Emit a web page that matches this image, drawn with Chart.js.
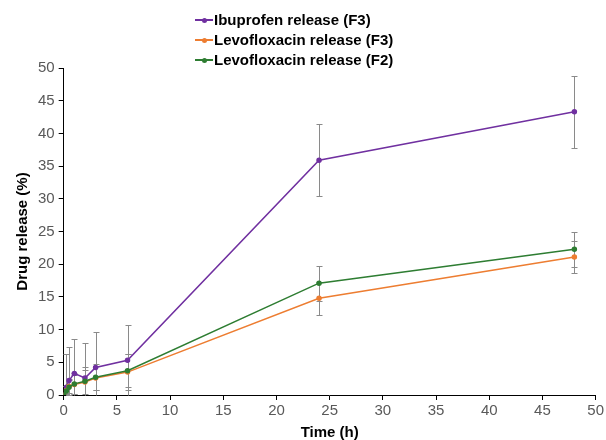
<!DOCTYPE html>
<html>
<head>
<meta charset="utf-8">
<script src="https://cdn.jsdelivr.net/npm/chart.js@4.4.1/dist/chart.umd.min.js"></script>
<style>
  body { margin: 0; background: #fff; }
  #wrap { position: relative; width: 606px; height: 440px; }
  #legend { position: absolute; left: 195px; top: 10px; font: bold 15px "Liberation Sans", Arial, sans-serif; color: #000; }
  #legend .row { height: 20px; line-height: 20px; display: flex; align-items: center; white-space: nowrap; }
  #legend .mark { position: relative; width: 18px; height: 2px; margin-right: 1px; }
  #legend .mark span { position: absolute; left: 7px; top: -1.5px; width: 5px; height: 5px; border-radius: 50%; }
</style>
</head>
<body>
<div id="wrap">
  <canvas id="chart" width="606" height="440"></canvas>
  <div id="legend"></div>
</div>
<script>
// ========================== Data ==========================
const times = [0, 0.25, 0.5, 1, 2, 3, 6, 24, 48];
const seriesNames = ['Ibuprofen release (F3)', 'Levofloxacin release (F3)', 'Levofloxacin release (F2)'];
const seriesColors = ['#7030A0', '#ED7D31', '#2E7D32'];

const ibuF3 = [0, 1.2, 2.2, 3.3, 2.6, 4.2, 5.3, 35.9, 43.3];
const levoF3 = [0, 0.7, 1.3, 1.6, 2.0, 2.6, 3.5, 14.8, 21.1];
const levoF2 = [0, 0.6, 1.2, 1.7, 2.1, 2.7, 3.7, 17.1, 22.3];

const ibuF3Err = [0, 5.1, 5.2, 5.3, 5.3, 5.5, 5.4, 5.5, 5.5];
const levoF3Err = [0, 0.6, 1.0, 1.4, 1.8, 1.8, 2.7, 2.5, 2.5];
const levoF2Err = [0, 0.8, 1.2, 1.6, 2.2, 2.0, 2.5, 2.7, 2.7];

const xTicks = [0, 5, 10, 15, 20, 25, 30, 35, 40, 45, 50];
const yTicks = [0, 5, 10, 15, 20, 25, 30, 35, 40, 45, 50];

const values = [ibuF3, levoF3, levoF2];
const errors = [ibuF3Err, levoF3Err, levoF2Err];

// draw order: green, orange, purple on top
const order = [2, 1, 0];

// ========================== Error bars ==========================
const errorBars = {
  id: 'errorBars',
  beforeDatasetsDraw(chart) {
    const ctx = chart.ctx;
    const xs = chart.scales.x, ys = chart.scales.y;
    ctx.save();
    ctx.strokeStyle = '#8a8a8a';
    ctx.lineWidth = 1;
    chart.data.datasets.forEach((ds, k) => {
      const i = order[k];
      ds.data.forEach((p, j) => {
        const e = errors[i][j];
        if (!e) return;
        const px = Math.round(xs.getPixelForValue(p.x)) + 0.5;
        const top = Math.round(ys.getPixelForValue(p.y + e)) + 0.5;
        const bot = Math.round(ys.getPixelForValue(Math.max(0, p.y - e))) + 0.5;
        ctx.beginPath();
        ctx.moveTo(px, top); ctx.lineTo(px, bot);
        ctx.moveTo(px - 3, top); ctx.lineTo(px + 3, top);
        if (p.y - e >= 0) { ctx.moveTo(px - 3, bot); ctx.lineTo(px + 3, bot); }
        ctx.stroke();
      });
    });
    ctx.restore();
  }
};

// ========================== Chart ==========================
const datasets = order.map(i => ({
  label: seriesNames[i],
  data: times.map((t, j) => ({ x: t, y: values[i][j] })),
  borderColor: seriesColors[i],
  backgroundColor: seriesColors[i],
  borderWidth: 1.5,
  pointRadius: 2,
  pointHoverRadius: 2,
  tension: 0
}));

const tickFont = { family: '"Liberation Sans", Arial, sans-serif', size: 15 };
const titleFont = { family: '"Liberation Sans", Arial, sans-serif', size: 15, weight: 'bold' };

new Chart(document.getElementById('chart'), {
  type: 'line',
  data: { datasets },
  plugins: [errorBars],
  options: {
    responsive: false,
    animation: false,
    layout: { padding: { top: 68, right: 3, left: 14, bottom: 0 } },
    plugins: { legend: { display: false }, tooltip: { enabled: false } },
    scales: {
      x: {
        type: 'linear', min: 0, max: 50,
        afterBuildTicks: s => { s.ticks = xTicks.map(v => ({ value: v })); },
        ticks: { color: '#595959', font: tickFont, padding: 2, maxRotation: 0 },
        grid: { drawOnChartArea: false, drawTicks: true, tickLength: 5, color: '#000' },
        border: { color: '#000', width: 1 },
        title: { display: true, text: 'Time (h)', color: '#000', font: Object.assign({ lineHeight: 1 }, titleFont), padding: { top: 3, bottom: 0 } }
      },
      y: {
        type: 'linear', min: 0, max: 50,
        afterBuildTicks: s => { s.ticks = yTicks.map(v => ({ value: v })); },
        ticks: { color: '#595959', font: tickFont, padding: 4 },
        grid: { drawOnChartArea: false, drawTicks: true, tickLength: 5, color: '#000' },
        border: { color: '#000', width: 1 },
        title: { display: true, text: 'Drug release (%)', color: '#000', font: titleFont, padding: { top: 0, bottom: 2 } }
      }
    }
  }
});

// ========================== Legend ==========================
const legend = document.getElementById('legend');
seriesNames.forEach((name, i) => {
  const row = document.createElement('div');
  row.className = 'row';
  const mark = document.createElement('div');
  mark.className = 'mark';
  mark.style.background = seriesColors[i];
  const dot = document.createElement('span');
  dot.style.background = seriesColors[i];
  mark.appendChild(dot);
  const txt = document.createElement('span');
  txt.textContent = name;
  row.appendChild(mark);
  row.appendChild(txt);
  legend.appendChild(row);
});
</script>
</body>
</html>
